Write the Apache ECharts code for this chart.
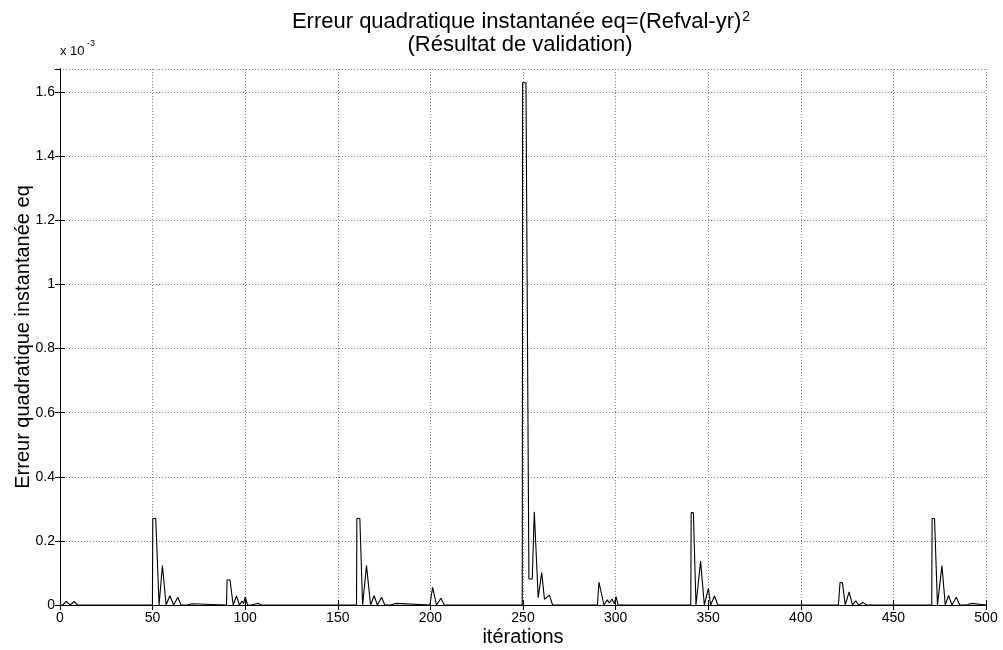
<!DOCTYPE html>
<html>
<head>
<meta charset="utf-8">
<script src="https://cdn.jsdelivr.net/npm/echarts@6/dist/echarts.min.js"></script>
<style>
html,body{margin:0;padding:0;background:#fff;}
#c{width:1003px;height:650px;}
</style>
</head>
<body>
<div id="c"></div>
<script>
// Values; eq shown in units of 1e-3
const iterX = [
  0, 1.5, 3.4, 5.5, 7.6, 9.5,
  49.9, 50.1, 51.7, 53.5, 55.3, 57.3, 59.3, 61.4, 63.6, 65.4, 68.7, 69.7, 71.2, 72.2,
  89.9, 90.2, 91.8, 93.5, 95.3, 96.9, 98.3, 99.2, 100, 101.3, 103.5, 104.5, 106, 107.3, 108.5,
  160.1, 160.3, 161.9, 163.4, 165.5, 167.7, 169.6, 171.4, 173.6, 175.4, 178.5, 179.5, 181.5, 182.5,
  199.7, 201.2, 203.3, 205.7, 207.5, 209, 209.8, 211,
  249.6, 249.8, 251.6, 253.2, 255, 256.1, 258.2, 260.1, 261.6, 264.2, 266, 267.3, 268.3, 269.5, 271.3, 272.3, 273.5,
  290.2, 291, 292, 293.7, 295.5, 296.7, 298, 299.3, 300.2, 301.4, 303, 304, 305.2, 307, 308, 309,
  340.6, 340.8, 342, 343.4, 345.9, 347.9, 350.1, 351.3, 353.4, 355.2, 357, 358, 359.5, 361.3, 362.3, 363.5,
  420.3, 421.2, 422.5, 424, 426.1, 427.9, 429.7, 431.2, 433.6, 435.4,
  470.7, 470.9, 472.2, 473.8, 476.2, 478, 479.8, 481.6, 484, 485.8, 489.5, 490.5, 492, 493, 500
];
const eqY = [
  0, 0, 0.011, 0, 0.011, 0,
  0, 0.27, 0.27, 0, 0.123, 0, 0.029, 0, 0.024, 0, 0, 0.005, 0.004, 0,
  0, 0.078, 0.078, 0, 0.028, 0, 0.012, 0.004, 0.025, 0, 0, 0.005, 0.004, 0.005, 0,
  0, 0.27, 0.27, 0, 0.123, 0, 0.029, 0, 0.024, 0, 0, 0.005, 0.005, 0,
  0, 0.055, 0, 0.021, 0, 0, 0.005, 0,
  0, 1.629, 1.629, 0.081, 0.081, 0.291, 0.023, 0.101, 0.018, 0.031, 0, 0, 0.006, 0, 0, 0.005, 0,
  0, 0.071, 0.068, 0, 0.016, 0.006, 0.019, 0.004, 0.026, 0, 0, 0.006, 0, 0, 0.004, 0,
  0, 0.288, 0.288, 0, 0.137, 0, 0.052, 0, 0.028, 0, 0, 0.006, 0, 0, 0.006, 0,
  0, 0.071, 0.069, 0, 0.041, 0, 0.013, 0, 0.008, 0,
  0, 0.27, 0.27, 0, 0.123, 0, 0.03, 0, 0.024, 0, 0, 0.005, 0.005, 0, 0
];
const xTicks = [0, 50, 100, 150, 200, 250, 300, 350, 400, 450, 500];
const yTicks = [0, 0.2, 0.4, 0.6, 0.8, 1, 1.2, 1.4, 1.6];
const titleLine1 = 'Erreur quadratique instantanée eq=(Refval-yr)';
const titleSup = '2';
const titleLine2 = '(Résultat de validation)';
const xName = 'itérations';
const yName = 'Erreur quadratique instantanée eq';
const yMultiplier = 'x 10';
const yMultiplierExp = '-3';

const FONT = '"Liberation Sans", Arial, Helvetica, sans-serif';
const points = iterX.map((x, i) => [x, eqY[i]]);

const chart = echarts.init(document.getElementById('c'), null, {renderer: 'canvas'});

const gridLine = {show: true, lineStyle: {color: '#808080', type: [1, 2], width: 1}};
const axisLine = {show: true, lineStyle: {color: '#000', width: 1}};
const tickIn = {show: true, inside: true, length: 5, lineStyle: {color: '#000', width: 1}};

function yLabel(v) {
  for (const t of yTicks) if (Math.abs(v - t) < 1e-6) return String(t);
  return '';
}
function xLabel(v) {
  for (const t of xTicks) if (Math.abs(v - t) < 1e-6) return String(t);
  return '';
}

chart.setOption({
  animation: false,
  backgroundColor: '#fff',
  grid: {left: 60, right: 17, top: 69, bottom: 45, containLabel: false, outerBoundsMode: 'none'},
  xAxis: [{
    type: 'value', position: 'bottom', min: 0, max: 500, interval: 50,
    axisLine: axisLine, axisTick: tickIn, splitLine: gridLine,
    axisLabel: {color: '#000', fontSize: 14, fontFamily: FONT, margin: 6, formatter: xLabel},
    name: xName, nameLocation: 'middle', nameGap: 22, nameMoveOverlap: false,
    nameTextStyle: {color: '#000', fontSize: 20, fontFamily: FONT}
  }, {
    type: 'value', position: 'top', min: 0, max: 500, interval: 50,
    axisLine: axisLine, axisTick: tickIn, splitLine: {show: false},
    axisLabel: {show: false}
  }],
  yAxis: [{
    type: 'value', position: 'left', min: 0, max: 1.672, interval: 0.2,
    axisLine: axisLine, axisTick: tickIn, splitLine: gridLine,
    axisLabel: {color: '#000', fontSize: 14, fontFamily: FONT, margin: 5, formatter: yLabel, showMaxLabel: false},
    name: yName, nameLocation: 'middle', nameGap: 27, nameMoveOverlap: false,
    nameTextStyle: {color: '#000', fontSize: 20, fontFamily: FONT}
  }, {
    type: 'value', position: 'right', min: 0, max: 1.672, interval: 0.2,
    axisLine: axisLine, axisTick: tickIn, splitLine: {show: false},
    axisLabel: {show: false}
  }],
  series: [{
    type: 'line', data: points, xAxisIndex: 0, yAxisIndex: 0,
    showSymbol: false, symbol: 'none',
    lineStyle: {color: '#000', width: 1.1}, clip: true
  }],
  graphic: [{
    type: 'text', x: 521, y: 22,
    style: {
      text: '{m|' + titleLine1 + '}{s|' + titleSup + '}',
      align: 'center', verticalAlign: 'middle',
      rich: {
        m: {fontSize: 22, fontFamily: FONT, fill: '#000', lineHeight: 24},
        s: {fontSize: 14, fontFamily: FONT, fill: '#000', verticalAlign: 'top', lineHeight: 24, padding: [0, 0, 0, 1]}
      }
    }
  }, {
    type: 'text', x: 520, y: 45,
    style: {text: titleLine2, font: '22px ' + FONT, fill: '#000', align: 'center', verticalAlign: 'middle'}
  }, {
    type: 'text', x: 60, y: 51,
    style: {text: yMultiplier, font: '13px ' + FONT, fill: '#000', align: 'left', verticalAlign: 'middle'}
  }, {
    type: 'text', x: 87, y: 44,
    style: {text: yMultiplierExp, font: '9px ' + FONT, fill: '#000', align: 'left', verticalAlign: 'middle'}
  }]
});
</script>
</body>
</html>
